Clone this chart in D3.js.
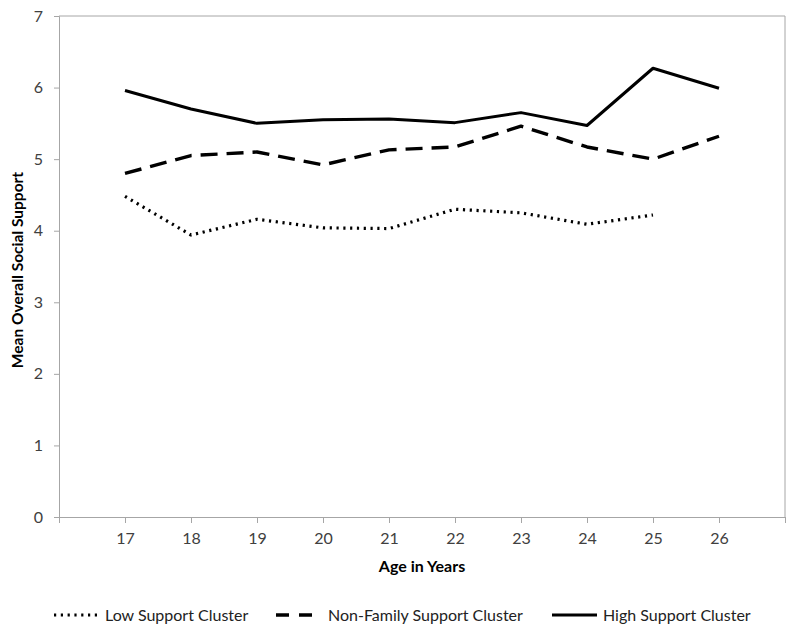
<!DOCTYPE html>
<html><head><meta charset="utf-8">
<script src="https://cdn.jsdelivr.net/npm/d3@7"></script>
<style>body{margin:0;background:#fff}svg{display:block}</style>
</head><body><svg id="c" width="800" height="635"></svg>
<script>
const ages = [17,18,19,20,21,22,23,24,25,26];
const lowSupport = [4.48,3.94,4.16,4.04,4.03,4.30,4.25,4.09,4.22,null];
const nonFamilySupport = [4.80,5.05,5.10,4.92,5.13,5.17,5.46,5.17,5.00,5.32];
const highSupport = [5.96,5.70,5.50,5.55,5.56,5.51,5.65,5.47,6.27,5.99];
const yTicks = [0,1,2,3,4,5,6,7];
const seriesNames = ["Low Support Cluster","Non-Family Support Cluster","High Support Cluster"];

const svg = d3.select("#c");
const font = "Lato, 'Open Sans', sans-serif";
const x = d3.scaleLinear().domain([16,27]).range([59,785]);
const y = d3.scaleLinear().domain([0,7]).range([517,16]);
const axisColor = "#a6a6a6", textColor = "#404040";

svg.append("path").attr("d", `M59,16H785V517`).attr("fill","none").attr("stroke",axisColor).attr("stroke-width",1);

const xAxis = svg.append("g").attr("transform","translate(0,517)")
  .call(d3.axisBottom(x).tickValues(d3.range(16,28)).tickSize(6).tickPadding(10)
    .tickFormat(d => ages.includes(d) ? d : ""));
const yAxis = svg.append("g").attr("transform","translate(59,0)")
  .call(d3.axisLeft(y).tickValues(yTicks).tickSize(5).tickPadding(11).tickFormat(d3.format("d")));
[xAxis,yAxis].forEach(g=>{
  g.selectAll("path,line").attr("stroke",axisColor).attr("stroke-width",1);
  g.selectAll("text").attr("fill",textColor).style("font-family",font).style("font-size","16px");
});

const styles = [
  {dash:"2.2,4.6", w:3.2, cap:"butt"},
  {dash:"17,9", w:3.4, cap:"butt"},
  {dash:null, w:3, cap:"butt"}
];
const data = [lowSupport, nonFamilySupport, highSupport];
const line = d3.line().defined(d=>d[1]!=null).x(d=>x(d[0])).y(d=>y(d[1]));
data.forEach((vals,i)=>{
  svg.append("path").datum(ages.map((a,j)=>[a,vals[j]]))
    .attr("d",line).attr("fill","none").attr("stroke","#000")
    .attr("stroke-width",styles[i].w).attr("stroke-linecap",styles[i].cap)
    .attr("stroke-linejoin","round")
    .attr("stroke-dasharray",styles[i].dash);
});

svg.append("text").attr("x",422).attr("y",572).attr("text-anchor","middle")
  .style("font-family",font).style("font-weight","bold").style("font-size","16px").attr("fill","#000")
  .text("Age in Years");
svg.append("text").attr("transform","translate(23,270) rotate(-90)").attr("text-anchor","middle")
  .style("font-family",font).style("font-weight","bold").style("font-size","15.5px").attr("fill","#000")
  .text("Mean Overall Social Support");

const legend = [
  {x1:54,x2:97,tx:105},
  {x1:276,x2:312,tx:328},
  {x1:552,x2:597,tx:603}
];
const legDash = ["2.2,4.6","13,10",null];
legend.forEach((l,i)=>{
  svg.append("line").attr("x1",l.x1).attr("x2",l.x2).attr("y1",615).attr("y2",615)
    .attr("stroke","#000").attr("stroke-width",styles[i].w).attr("stroke-dasharray",legDash[i]);
  svg.append("text").attr("x",l.tx).attr("y",621).style("font-family",font).style("font-size","16px")
    .attr("fill","#222").text(seriesNames[i]);
});
</script></body></html>
